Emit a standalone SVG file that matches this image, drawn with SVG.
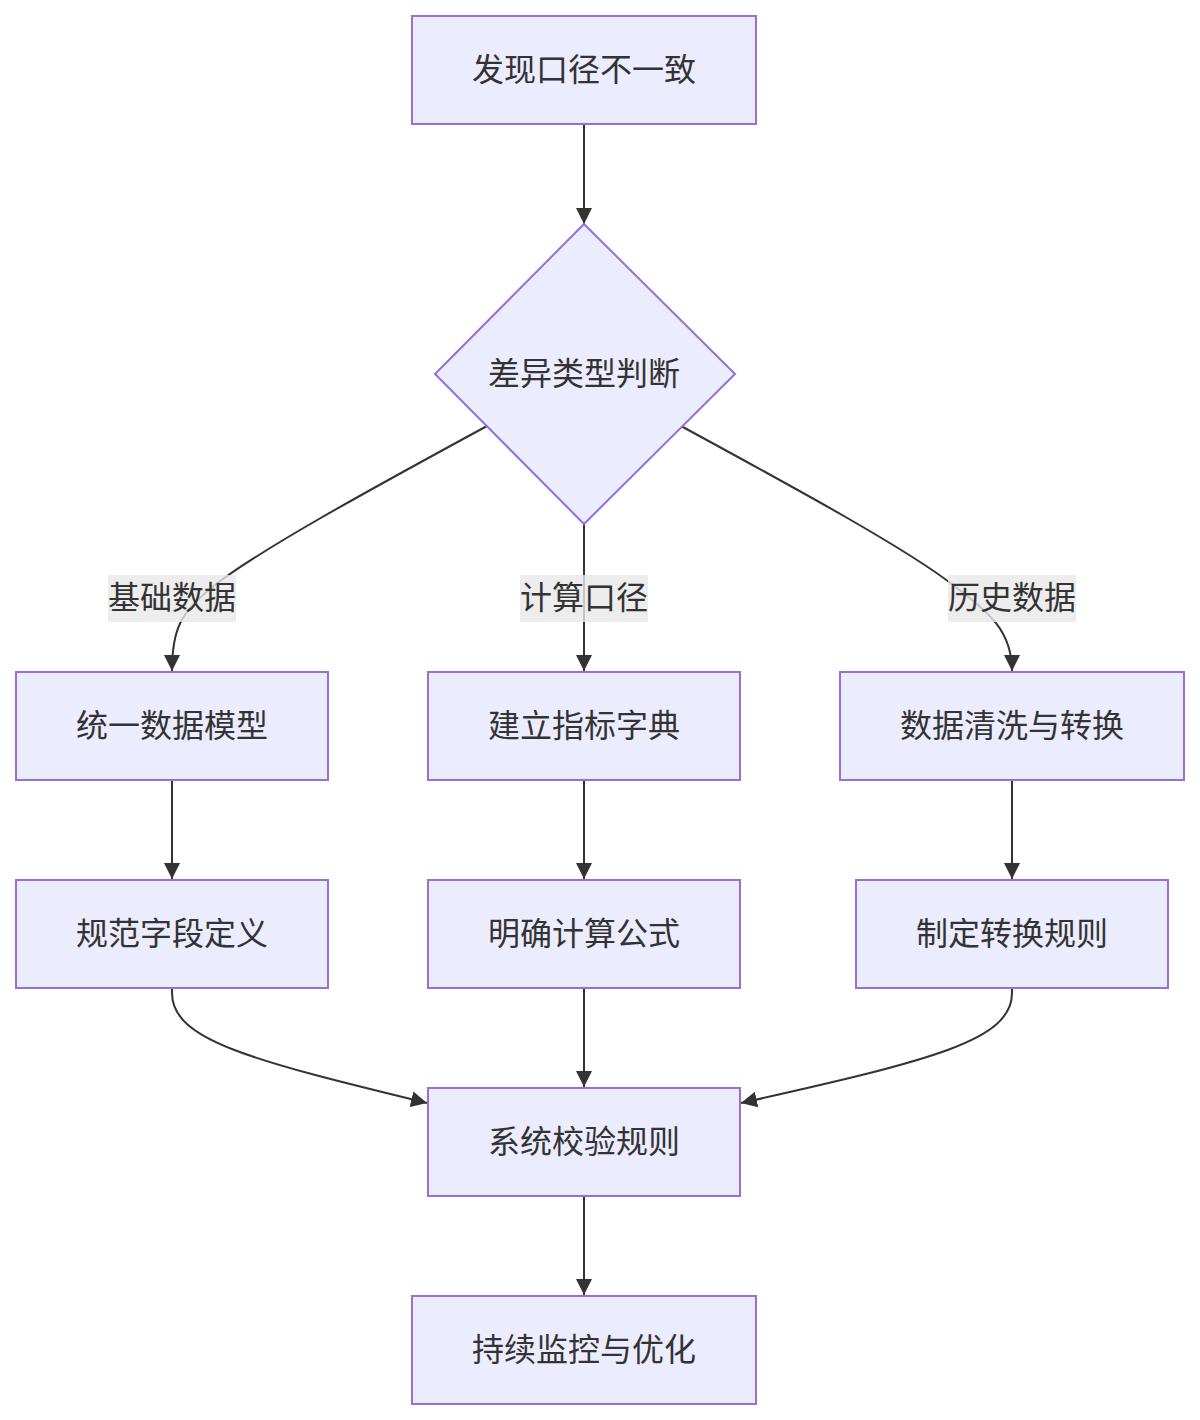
<svg xmlns="http://www.w3.org/2000/svg" width="1200" height="1420" viewBox="0 0 1200 1420">
<style>
.node rect,.node polygon{fill:#ECECFF;stroke:#9370DB;stroke-width:2}
.node text,.lbl text{font-family:"Liberation Sans","Noto Sans CJK SC",sans-serif;font-size:32px;fill:#333;text-anchor:middle;dominant-baseline:central}
.edge{fill:none;stroke:#333;stroke-width:2;marker-end:url(#arrow)}
.lbl rect{fill:#e8e8e8;fill-opacity:0.8}
</style>
<defs>
<marker id="arrow" viewBox="0 0 10 10" refX="10" refY="5" markerWidth="8" markerHeight="8" markerUnits="strokeWidth" orient="auto">
<path d="M0,0 L10,5 L0,10 z" fill="#333"/>
</marker>
</defs>
<rect width="1200" height="1420" fill="#fff"/>
<g id="edges">
<path class="edge" d="M584,124 L584,224"/>
<path class="edge" d="M487,426 C360,495 260,550 215,585 C180,612 172,630 172,671"/>
<path class="edge" d="M584,524 L584,671"/>
<path class="edge" d="M681,426 C808,495 908,550 953,585 C988,612 1012,630 1012,671"/>
<path class="edge" d="M172,780 L172,879"/>
<path class="edge" d="M584,780 L584,879"/>
<path class="edge" d="M1012,780 L1012,879"/>
<path class="edge" d="M172,988 L172,993 C172,1040 250,1060 427,1103"/>
<path class="edge" d="M584,988 L584,1087"/>
<path class="edge" d="M1012,988 L1012,993 C1012,1040 934,1060 741,1103"/>
<path class="edge" d="M584,1196 L584,1295"/>
</g>
<g id="labels">
<g class="lbl" id="lbl-basic"><rect x="108" y="575" width="128" height="47"/><text x="172" y="598">基础数据</text></g>
<g class="lbl" id="lbl-calc"><rect x="520" y="575" width="128" height="47"/><text x="584" y="598">计算口径</text></g>
<g class="lbl" id="lbl-hist"><rect x="948" y="575" width="128" height="47"/><text x="1012" y="598">历史数据</text></g>
</g>
<g class="node" id="n-start"><rect x="412" y="16" width="344" height="108"/><text x="584" y="70">发现口径不一致</text></g>
<g class="node" id="n-decide"><polygon points="584,224 735,374 584,524 435,374"/><text x="584" y="374">差异类型判断</text></g>
<g class="node" id="n-model"><rect x="16" y="672" width="312" height="108"/><text x="172" y="726">统一数据模型</text></g>
<g class="node" id="n-dict"><rect x="428" y="672" width="312" height="108"/><text x="584" y="726">建立指标字典</text></g>
<g class="node" id="n-clean"><rect x="840" y="672" width="344" height="108"/><text x="1012" y="726">数据清洗与转换</text></g>
<g class="node" id="n-field"><rect x="16" y="880" width="312" height="108"/><text x="172" y="934">规范字段定义</text></g>
<g class="node" id="n-formula"><rect x="428" y="880" width="312" height="108"/><text x="584" y="934">明确计算公式</text></g>
<g class="node" id="n-rule"><rect x="856" y="880" width="312" height="108"/><text x="1012" y="934">制定转换规则</text></g>
<g class="node" id="n-check"><rect x="428" y="1088" width="312" height="108"/><text x="584" y="1142">系统校验规则</text></g>
<g class="node" id="n-monitor"><rect x="412" y="1296" width="344" height="108"/><text x="584" y="1350">持续监控与优化</text></g>
</svg>
